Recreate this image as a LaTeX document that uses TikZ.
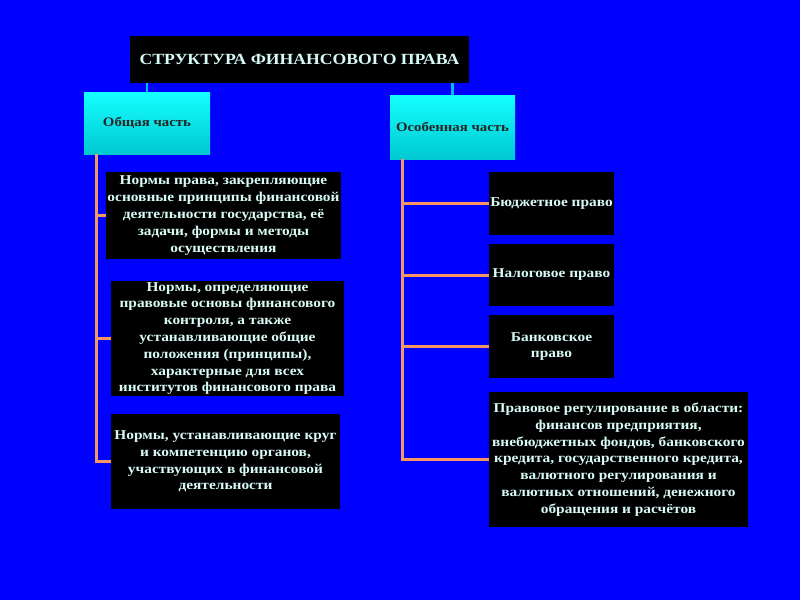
\documentclass[tikz,border=0pt]{standalone}
\usepackage{fontspec}
\setmainfont{Liberation Serif}
\newfontfamily\widefont[FakeStretch=1.14]{Liberation Serif}
\usetikzlibrary{shapes}

\definecolor{fonblue}{RGB}{0,0,255}
\definecolor{boxtext}{RGB}{215,250,245}
\definecolor{linkorange}{RGB}{245,150,100}
\definecolor{linkcyan}{RGB}{0,190,245}
\definecolor{parttop}{RGB}{20,255,255}
\definecolor{partbot}{RGB}{0,200,210}

\tikzset{
  blackbox/.style={rectangle, fill=black, text=boxtext, font=\widefont\bfseries\fontsize{13.5}{16.8}\selectfont,
    align=center, inner sep=1pt},
  partbox/.style={rectangle, top color=parttop, bottom color=partbot, text=black!85,
    font=\widefont\bfseries\fontsize{13}{15}\selectfont, align=center},
  orline/.style={draw=linkorange, line width=3pt},
  cyline/.style={draw=linkcyan, line width=2.5pt}
}

\begin{document}
\begin{tikzpicture}[x=1pt, y=-1pt]
% фон
\fill[fonblue] (0,0) rectangle (800,600);
\useasboundingbox (0,0) rectangle (800,600);

% заголовок
\node[blackbox, minimum width=339pt, minimum height=47pt, font=\widefont\bfseries\fontsize{15.5}{19}\selectfont] (title) at (299.5,59.5) {СТРУКТУРА ФИНАНСОВОГО ПРАВА};

% две части
\node[partbox, minimum width=126pt, minimum height=62pt] (common) at (147,123) {Общая часть};
\node[partbox, minimum width=125pt, minimum height=64pt] (special) at (452.5,127) {Особенная часть};

% общая часть
\node[blackbox, minimum width=235pt, minimum height=87pt] (c1) at (223.5,215.5) {Нормы права, закрепляющие\\основные принципы финансовой\\деятельности государства, её\\задачи, формы и методы\\осуществления};
\node[blackbox, minimum width=233pt, minimum height=115pt] (c2) at (227.5,338.5) {Нормы, определяющие\\правовые основы финансового\\контроля, а также\\устанавливающие общие\\положения (принципы),\\характерные для всех\\институтов финансового права};
\node[blackbox, minimum width=229pt, minimum height=95pt] (c3) at (225.5,461.5) {Нормы, устанавливающие круг\\и компетенцию органов,\\участвующих в финансовой\\деятельности};

% особенная часть
\node[blackbox, minimum width=125pt, minimum height=63pt] (s1) at (551.5,203.5) {Бюджетное право};
\node[blackbox, minimum width=125pt, minimum height=62pt] (s2) at (551.5,275) {Налоговое право};
\node[blackbox, minimum width=125pt, minimum height=63pt] (s3) at (551.5,346.5) {Банковское\\право};
\node[blackbox, minimum width=259pt, minimum height=135pt] (s4) at (618.5,459.5) {Правовое регулирование в области:\\финансов предприятия,\\внебюджетных фондов, банковского\\кредита, государственного кредита,\\валютного регулирования и\\валютных отношений, денежного\\обращения и расчётов};

% связи заголовка
\draw[cyline] (common.north) -- (common.north |- title.south);
\draw[cyline] (special.north) -- (special.north |- title.south);

% связи слева
\coordinate (ctop) at ([xshift=13pt]common.south west);
\draw[orline] (ctop) |- (c3.west);
\draw[orline] (ctop |- c1.west) -- (c1.west);
\draw[orline] (ctop |- c2.west) -- (c2.west);

% связи справа
\coordinate (stop) at ([xshift=13pt]special.south west);
\draw[orline] (stop) |- (s4.west);
\draw[orline] (stop |- s1.west) -- (s1.west);
\draw[orline] (stop |- s2.west) -- (s2.west);
\draw[orline] (stop |- s3.west) -- (s3.west);

\end{tikzpicture}
\end{document}
